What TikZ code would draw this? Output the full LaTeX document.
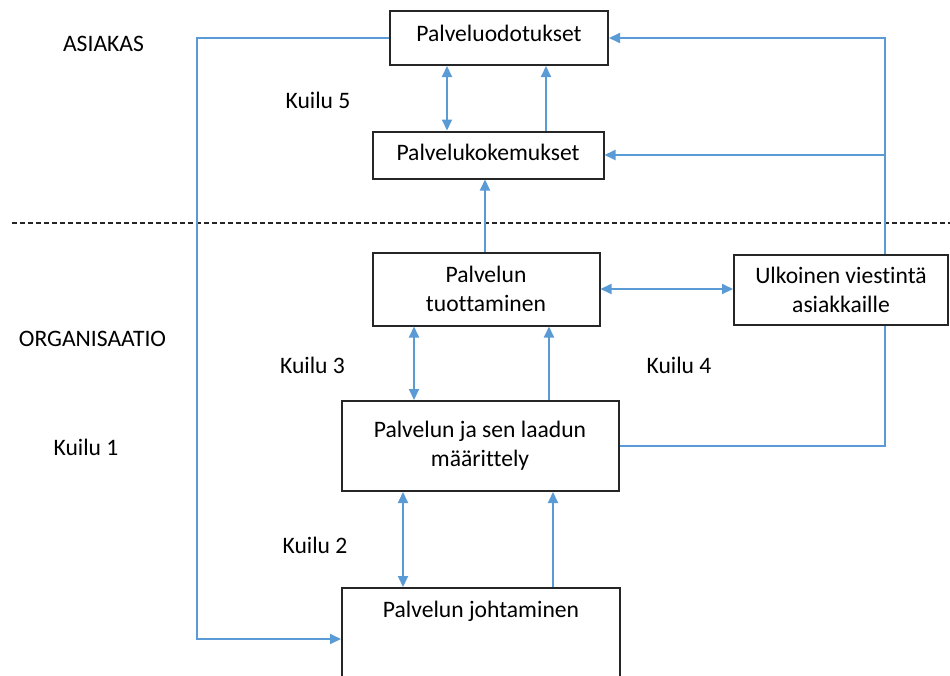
\documentclass[tikz,border=0pt]{standalone}
\usepackage{fontspec}
\setmainfont[Ligatures=NoCommon]{Carlito}
\usetikzlibrary{arrows.meta}
\definecolor{linkblue}{RGB}{91,155,213}

\begin{document}
\begin{tikzpicture}[x=1pt, y=-1pt, font=\fontsize{23.6}{29}\selectfont]
    % ================= styles =================
    \tikzset{
        % boxes: white fill, dark border
        box/.style={draw=black!85, line width=2pt, fill=white, align=center, inner sep=4pt},
        % blue connector with one head
        flow/.style={line width=2pt, linkblue, -{Triangle[length=11pt,width=10pt]}},
        % blue connector with heads at both ends
        twoway/.style={flow, {Triangle[length=11pt,width=10pt]}-{Triangle[length=11pt,width=10pt]}},
        % plain blue line
        wire/.style={line width=2pt, linkblue},
        % free text
        tag/.style={inner sep=0pt}
    }
    \useasboundingbox (0,0) rectangle (950,675);

    % ================= border between the two levels =================
    \draw[black!85, line width=2pt, dash pattern=on 5pt off 3pt] (12,223) -- (950,223);

    % ================= boxes =================
    \node[box, minimum width=218pt, minimum height=54pt, text depth=10pt] (odot) at (499,38) {Palveluodotukset};
    \node[box, minimum width=231pt, minimum height=47pt, text depth=5pt] (kok) at (488,155) {Palvelukokemukset};
    \node[box, minimum width=227pt, minimum height=73pt] (tuot) at (486,289) {Palvelun\\tuottaminen};
    \node[box, minimum width=214pt, minimum height=70pt] (ulk) at (841,290) {Ulkoinen viestintä\\asiakkaille};
    \node[box, minimum width=277pt, minimum height=90pt] (maar) at (480,446) {Palvelun ja sen laadun\\määrittely};
    \node[box, minimum width=278pt, anchor=north, text height=16pt, text depth=100pt, inner ysep=13pt] (joht) at (481,587) {Palvelun johtaminen};

    % ================= labels =================
    \node[tag] (asiakas) at (103.5,44) {ASIAKAS};
    \node[tag] (org) at (92.5,339) {ORGANISAATIO};
    \node[tag] (k1) at (86,447) {Kuilu 1};
    \node[tag] (k2) at (315,545) {Kuilu 2};
    \node[tag] (k3) at (312.5,365) {Kuilu 3};
    \node[tag] (k4) at (679,365) {Kuilu 4};
    \node[tag] (k5) at (318,100) {Kuilu 5};

    % ================= vertical links =================
    \foreach \xx/\up/\down in {447/odot/kok, 414/tuot/maar, 403/maar/joht}
        \draw[twoway] (\xx,0 |- \up.south) -- (\xx,0 |- \down.north);
    \foreach \xx/\down/\up in {546/kok/odot, 485/tuot/kok, 549/maar/tuot, 553/joht/maar}
        \draw[flow] (\xx,0 |- \down.north) -- (\xx,0 |- \up.south);

    % ================= side links =================
    \draw[twoway] (tuot.east) -- (tuot.east -| ulk.west);

    % left loop down to management
    \coordinate (lft) at (197,639);
    \draw[flow] (odot.west) -| (lft) -- (lft -| joht.west);

    % right loop up to the customer boxes
    \coordinate (rgt) at (885,446);
    \draw[wire] (maar.east) -- (rgt) -- (rgt |- ulk.south);
    \draw[flow] (rgt |- ulk.north) |- (odot.east);
    \draw[flow] (rgt |- kok.east) -- (kok.east);

\end{tikzpicture}
\end{document}
